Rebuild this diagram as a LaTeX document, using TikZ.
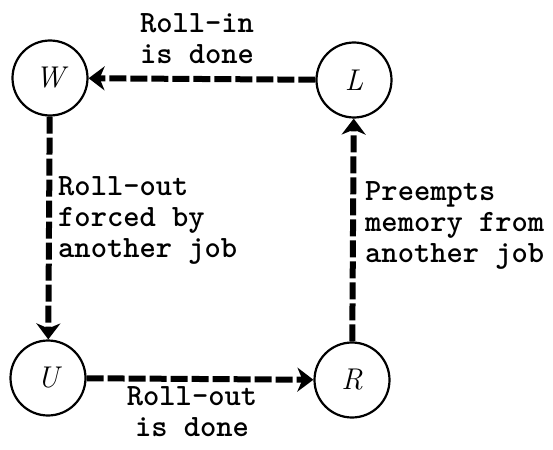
\documentclass[tikz,border=0pt]{standalone}
\usetikzlibrary{arrows.meta}
\begin{document}
\begin{tikzpicture}[x=1pt,y=-1pt,
  state/.style={circle,draw,line width=2.2pt,minimum size=75pt,inner sep=0pt,
    font=\fontsize{30}{32}\selectfont\itshape},
  flow/.style={line width=6pt,dash pattern=on 17pt off 4pt,
    -{Stealth[length=16pt,width=24pt,inset=5pt]}},
  lbl/.style={inner sep=0pt,font=\fontsize{31}{31}\selectfont\ttfamily\bfseries}]
\useasboundingbox (0,0) rectangle (553,449);
\node[state] (W) at (50,78) {W};
\node[state] (L) at (354,80) {L};
\node[state] (U) at (48,378) {U};
\node[state] (R) at (352,380) {R};
\draw[flow] (L) -- (W);
\draw[flow] (W) -- (U);
\draw[flow] (U) -- (R);
\draw[flow] (R) -- (L);
\node[lbl,anchor=base] (t1) at (197,33) {\begin{tabular}[t]{@{}c@{}}Roll-in\\is done\end{tabular}};
\node[lbl,anchor=base west] (t2) at (58,195) {\begin{tabular}[t]{@{}l@{}}Roll-out\\forced by\\another job\end{tabular}};
\node[lbl,anchor=base west] (t3) at (365,200) {\begin{tabular}[t]{@{}l@{}}Preempts\\memory from\\another job\end{tabular}};
\node[lbl,anchor=base] (t4) at (192,405) {\begin{tabular}[t]{@{}c@{}}Roll-out\\is done\end{tabular}};
\end{tikzpicture}
\end{document}
